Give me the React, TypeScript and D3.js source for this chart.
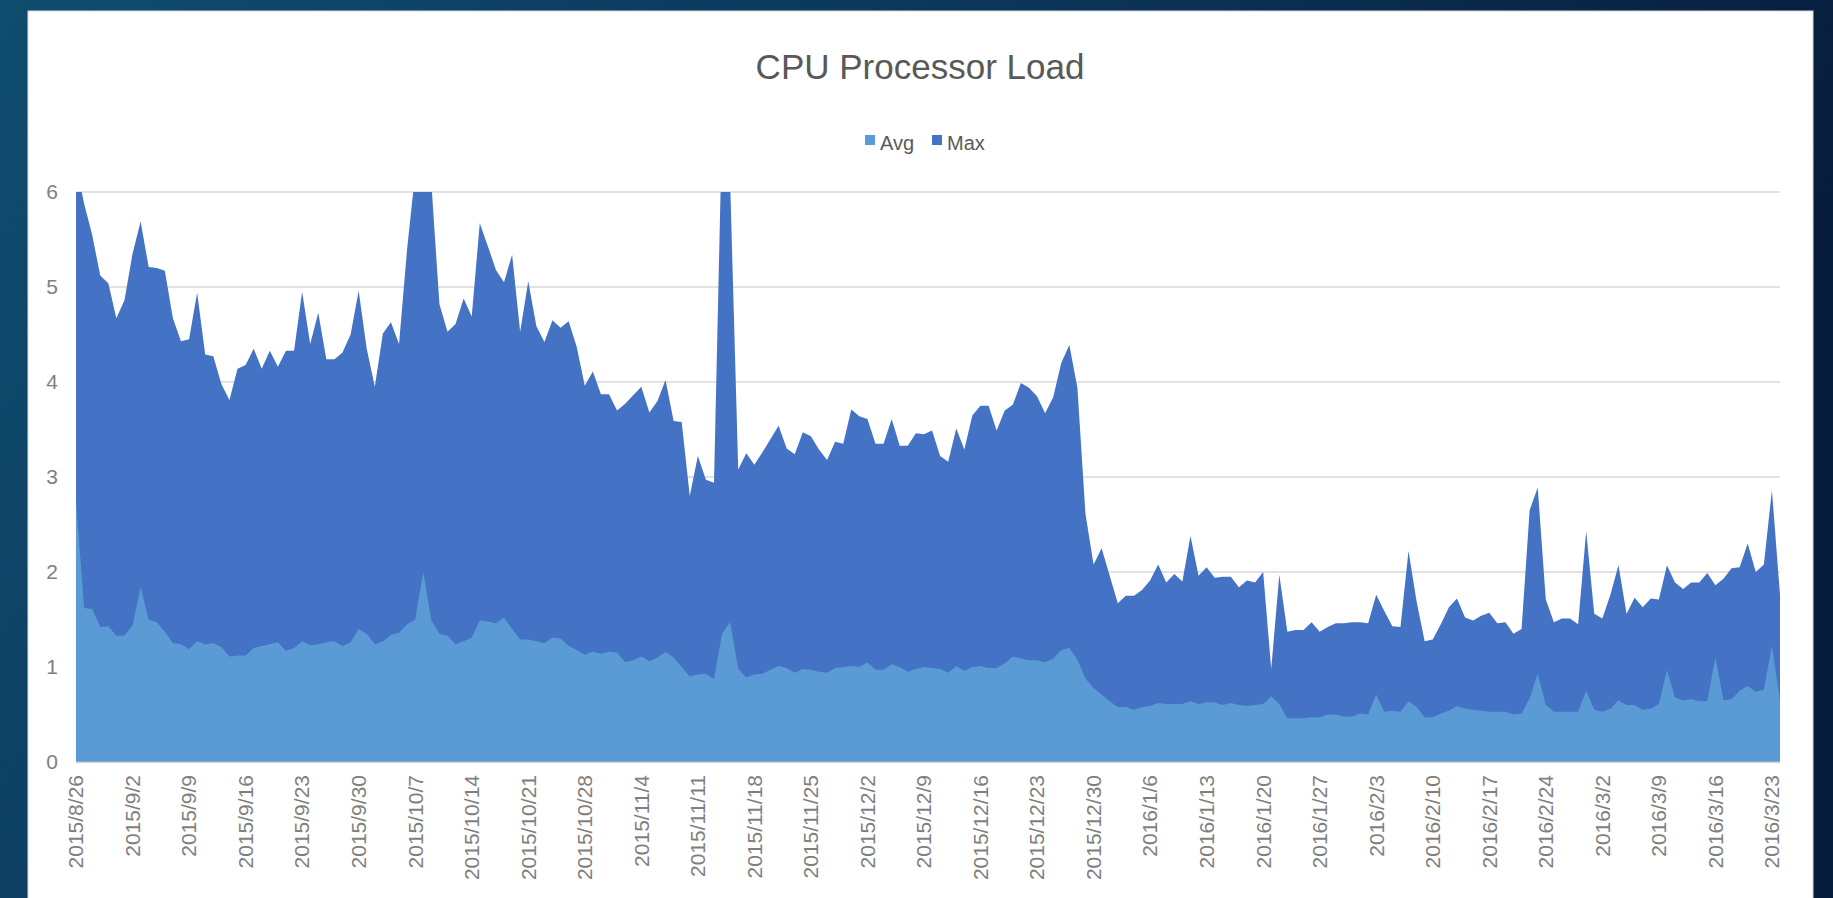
import React from 'react';
import * as d3 from 'd3';

// daily series, first day 2015/8/26
const START_DATE = new Date(Date.UTC(2015, 7, 26));

const maxLoad = [
  6.3, 5.88, 5.55, 5.12, 5.04, 4.67, 4.86, 5.35, 5.69, 5.21,
  5.2, 5.17, 4.67, 4.43, 4.45, 4.94, 4.29, 4.27, 3.98, 3.81,
  4.14, 4.18, 4.35, 4.14, 4.33, 4.16, 4.33, 4.33, 4.95, 4.4,
  4.73, 4.24, 4.24, 4.31, 4.5, 4.96, 4.35, 3.95, 4.51, 4.63,
  4.4, 5.4, 6.2, 6.5, 6.1, 4.82, 4.53, 4.61, 4.88, 4.69,
  5.67, 5.43, 5.18, 5.05, 5.34, 4.53, 5.06, 4.59, 4.42, 4.65,
  4.57, 4.64, 4.37, 3.96, 4.11, 3.87, 3.87, 3.7, 3.77, 3.86,
  3.95, 3.68, 3.8, 4.02, 3.59, 3.58, 2.8, 3.22, 2.97, 2.94,
  6.7, 6.1, 3.08, 3.25, 3.13, 3.26, 3.4, 3.54, 3.3, 3.24,
  3.47, 3.43, 3.29, 3.18, 3.37, 3.35, 3.71, 3.64, 3.61, 3.35,
  3.35, 3.61, 3.33, 3.33, 3.46, 3.45, 3.49, 3.22, 3.16, 3.51,
  3.29, 3.65, 3.75, 3.75, 3.49, 3.7, 3.76, 3.99, 3.94, 3.85,
  3.67, 3.84, 4.2, 4.39, 3.94, 2.61, 2.08, 2.25, 1.96, 1.67,
  1.75, 1.75, 1.81, 1.91, 2.08, 1.89, 1.98, 1.9, 2.38, 1.96,
  2.05, 1.94, 1.95, 1.95, 1.84, 1.91, 1.89, 2.0, 0.98, 1.97,
  1.37, 1.39, 1.39, 1.47, 1.37, 1.42, 1.46, 1.46, 1.47, 1.47,
  1.46, 1.76, 1.59, 1.43, 1.42, 2.22, 1.69, 1.27, 1.29, 1.45,
  1.63, 1.72, 1.52, 1.49, 1.54, 1.57, 1.46, 1.47, 1.35, 1.4,
  2.65, 2.89, 1.71, 1.47, 1.51, 1.51, 1.45, 2.43, 1.56, 1.51,
  1.76, 2.07, 1.56, 1.73, 1.63, 1.72, 1.71, 2.07, 1.89, 1.82,
  1.89, 1.89, 1.99, 1.86, 1.93, 2.04, 2.05, 2.3, 2.0, 2.08,
  2.86, 1.76,
];

const avgLoad = [
  2.75, 1.62, 1.61, 1.42, 1.43, 1.33, 1.33, 1.44, 1.84, 1.5,
  1.47, 1.37, 1.25, 1.24, 1.19, 1.27, 1.24, 1.25, 1.21, 1.11,
  1.12, 1.12, 1.2, 1.22, 1.24, 1.26, 1.17, 1.2, 1.27, 1.23,
  1.24, 1.26, 1.27, 1.22, 1.26, 1.4, 1.35, 1.24, 1.27, 1.34,
  1.36, 1.45, 1.5, 2.0, 1.49, 1.35, 1.33, 1.24, 1.27, 1.31,
  1.49, 1.48, 1.46, 1.52, 1.4, 1.29, 1.29, 1.27, 1.25, 1.31,
  1.3, 1.22, 1.18, 1.13, 1.16, 1.14, 1.16, 1.15, 1.05, 1.07,
  1.11, 1.06, 1.1, 1.16, 1.1, 1.0, 0.9, 0.92, 0.93, 0.87,
  1.35, 1.47, 0.98, 0.89, 0.92, 0.93, 0.97, 1.01, 0.99, 0.94,
  0.98, 0.97, 0.95, 0.94, 0.99, 1.0, 1.01, 1.0, 1.05, 0.97,
  0.97, 1.03, 1.0, 0.95, 0.98, 1.0, 0.99, 0.98, 0.94, 1.01,
  0.96, 1.0, 1.01, 0.99, 0.99, 1.04, 1.11, 1.09, 1.07, 1.07,
  1.05, 1.09, 1.18, 1.2, 1.08, 0.88, 0.78, 0.71, 0.64, 0.58,
  0.58, 0.55, 0.58, 0.59, 0.62, 0.61, 0.61, 0.61, 0.64, 0.61,
  0.63, 0.63, 0.6, 0.62, 0.6, 0.59, 0.6, 0.61, 0.69, 0.61,
  0.46, 0.46, 0.46, 0.47, 0.47, 0.5, 0.5, 0.48, 0.48, 0.51,
  0.5, 0.71, 0.53, 0.54, 0.53, 0.64, 0.58, 0.47, 0.47, 0.51,
  0.54, 0.59, 0.56, 0.55, 0.54, 0.53, 0.53, 0.53, 0.5, 0.51,
  0.67, 0.93, 0.6, 0.53, 0.53, 0.53, 0.53, 0.75, 0.55, 0.53,
  0.56, 0.65, 0.6, 0.6, 0.55, 0.56, 0.61, 0.97, 0.68, 0.65,
  0.66, 0.64, 0.64, 1.1, 0.65, 0.66, 0.75, 0.8, 0.74, 0.76,
  1.22, 0.65,
];

const yTicks = [0, 1, 2, 3, 4, 5, 6];
const seriesNames = ['Avg', 'Max'];
const seriesColors = ['#5b9bd5', '#4472c4'];

const W = 1833;
const H = 898;
const margin = { top: 192, right: 53, bottom: 136, left: 76 };
const axisFont = '"Liberation Sans", Arial, sans-serif';

const dates = maxLoad.map((_, i) => d3.utcDay.offset(START_DATE, i));
const fmt = d3.utcFormat('%Y/%-m/%-d');

export default function App() {
  const x = d3
    .scaleUtc()
    .domain([dates[0], dates[dates.length - 1]])
    .range([margin.left, W - margin.right]);
  const y = d3.scaleLinear().domain([0, 6]).range([H - margin.bottom, margin.top]);

  const area = d3
    .area<number>()
    .x((_, i) => x(dates[i]))
    .y0(y(0))
    .y1(d => y(d));

  const xTicks = d3.utcDay.range(dates[0], d3.utcDay.offset(dates[dates.length - 1], 1), 7);
  const [x0, x1] = x.range();
  const [yb, yt] = y.range();

  return (
    <>
      <style>{'body{margin:0;overflow:hidden}'}</style>
      <svg width={W} height={H} style={{ display: 'block' }}>
        <defs>
          <linearGradient id="bg" x1="0" y1="0" x2="1" y2="0.3">
            <stop offset="0" stopColor="#0f4c6e" />
            <stop offset="0.5" stopColor="#0b3659" />
            <stop offset="1" stopColor="#071b3b" />
          </linearGradient>
          <clipPath id="plot">
            <rect x={x0} y={yt} width={x1 - x0} height={yb - yt} />
          </clipPath>
        </defs>
        <rect width={W} height={H} fill="url(#bg)" />
        <rect x={28} y={11} width={1785} height={H} fill="#fff" stroke="#d9d9d9" strokeWidth={1} />

        <text x={920} y={79} textAnchor="middle" fontFamily={axisFont} fontSize={35} fill="#595959">
          CPU Processor Load
        </text>

        {seriesNames.map((name, i) => (
          <g key={name} transform={`translate(${865 + i * 67},0)`}>
            <rect x={0} y={135} width={10} height={10} fill={seriesColors[i]} />
            <text x={15} y={150} fontFamily={axisFont} fontSize={20} fill="#595959">
              {name}
            </text>
          </g>
        ))}

        {yTicks.map(t => (
          <g key={t}>
            <line x1={x0} x2={x1} y1={y(t)} y2={y(t)} stroke="#d9d9d9" strokeWidth={1.5} />
            <text
              x={58}
              y={y(t)}
              dy="0.35em"
              textAnchor="end"
              fontFamily={axisFont}
              fontSize={21}
              fill="#7f7f7f"
            >
              {t}
            </text>
          </g>
        ))}

        <g clipPath="url(#plot)">
          <path d={area(maxLoad) ?? ''} fill={seriesColors[1]} />
          <path d={area(avgLoad) ?? ''} fill={seriesColors[0]} />
        </g>
        <line x1={x0} x2={x1} y1={yb + 0.5} y2={yb + 0.5} stroke="#d9d9d9" strokeWidth={1.5} />

        {xTicks.map(d => (
          <text
            key={d.getTime()}
            transform={`translate(${x(d)},${yb + 13}) rotate(-90)`}
            dy="0.35em"
            textAnchor="end"
            fontFamily={axisFont}
            fontSize={21}
            fill="#7f7f7f"
          >
            {fmt(d)}
          </text>
        ))}
      </svg>
    </>
  );
}
